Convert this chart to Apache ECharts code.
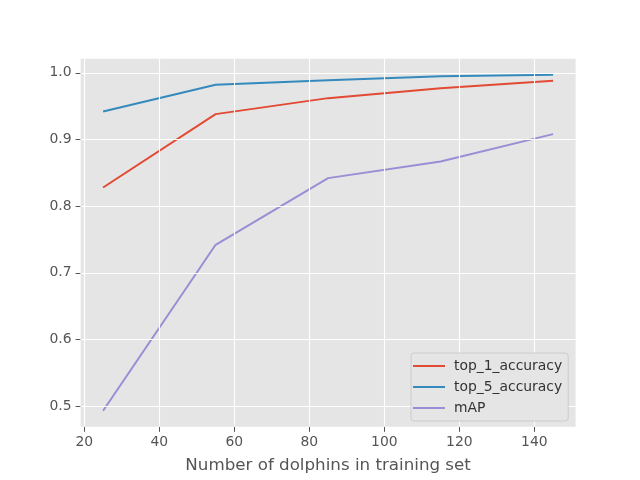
<!DOCTYPE html>
<html>
<head>
<meta charset="utf-8">
<script src="https://cdn.jsdelivr.net/npm/echarts@6/dist/echarts.min.js"></script>
<style>html,body{margin:0;padding:0;background:#fff}#c{width:640px;height:480px}</style>
</head>
<body>
<div id="c"></div>
<script>
const xValues = [25, 55, 85, 115, 145];
const top1 = [0.828, 0.938, 0.962, 0.977, 0.988];
const top5 = [0.942, 0.982, 0.989, 0.995, 0.997];
const mAP = [0.493, 0.742, 0.842, 0.867, 0.908];
const xTicks = [20, 40, 60, 80, 100, 120, 140];
const yTicks = [0.5, 0.6, 0.7, 0.8, 0.9, 1.0];
const seriesNames = ['top_1_accuracy', 'top_5_accuracy', 'mAP'];
const colors = ['#E24A33', '#348ABD', '#988ED5'];

const font = 'DejaVu Sans';
const chart = echarts.init(document.getElementById('c'), null, {renderer: 'canvas'});
const mk = (name, vals, color) => ({
  name, type: 'line', data: xValues.map((x, i) => [x, vals[i]]), z: 3,
  showSymbol: false, symbol: 'none', lineStyle: {width: 2, color}, itemStyle: {color},
  animation: false
});
const gridSeries = {
  type: 'line', data: [], z: 1, silent: true, animation: false,
  markLine: {
    silent: true, symbol: ['none', 'none'], animation: false, label: {show: false},
    lineStyle: {color: '#ffffff', width: 1.1, type: 'solid'},
    emphasis: {disabled: true},
    data: xTicks.map(v => ({xAxis: v})).concat(yTicks.map(v => ({yAxis: v})))
  }
};
chart.setOption({
  animation: false,
  grid: {left: 80.6, right: 64.4, top: 58.8, bottom: 53.2, show: true, backgroundColor: '#E5E5E5', borderWidth: 0},
  xAxis: {
    type: 'value', min: 19, max: 151,
    name: 'Number of dolphins in training set', nameLocation: 'middle', nameGap: 30,
    nameTextStyle: {fontFamily: font, fontSize: 16.7, color: '#555555'},
    axisLine: {show: false},
    axisTick: {show: true, customValues: xTicks, length: 5, lineStyle: {color: '#555555', width: 1}},
    axisLabel: {customValues: xTicks, fontFamily: font, fontSize: 13.9, color: '#555555', margin: 9},
    splitLine: {show: false}
  },
  yAxis: {
    type: 'value', min: 0.469, max: 1.021,
    axisLine: {show: false},
    axisTick: {show: true, customValues: yTicks, length: 5, lineStyle: {color: '#555555', width: 1}},
    axisLabel: {customValues: yTicks, fontFamily: font, fontSize: 13.9, color: '#555555', margin: 9,
      formatter: v => v.toFixed(1)},
    splitLine: {show: false}
  },
  legend: {
    data: seriesNames, orient: 'vertical', left: 411, top: 353, z: 10,
    backgroundColor: '#E5E5E5', borderColor: '#CCCCCC', borderWidth: 1, borderRadius: 3,
    padding: [5, 6, 5, 2], itemGap: 5, itemWidth: 32, itemHeight: 2, icon: 'rect',
    textStyle: {fontFamily: font, fontSize: 13.9, color: '#333333', lineHeight: 16, padding: [0, 0, 0, 4]}
  },
  series: [gridSeries, mk(seriesNames[0], top1, colors[0]), mk(seriesNames[1], top5, colors[1]), mk(seriesNames[2], mAP, colors[2])]
});
</script>
</body>
</html>
